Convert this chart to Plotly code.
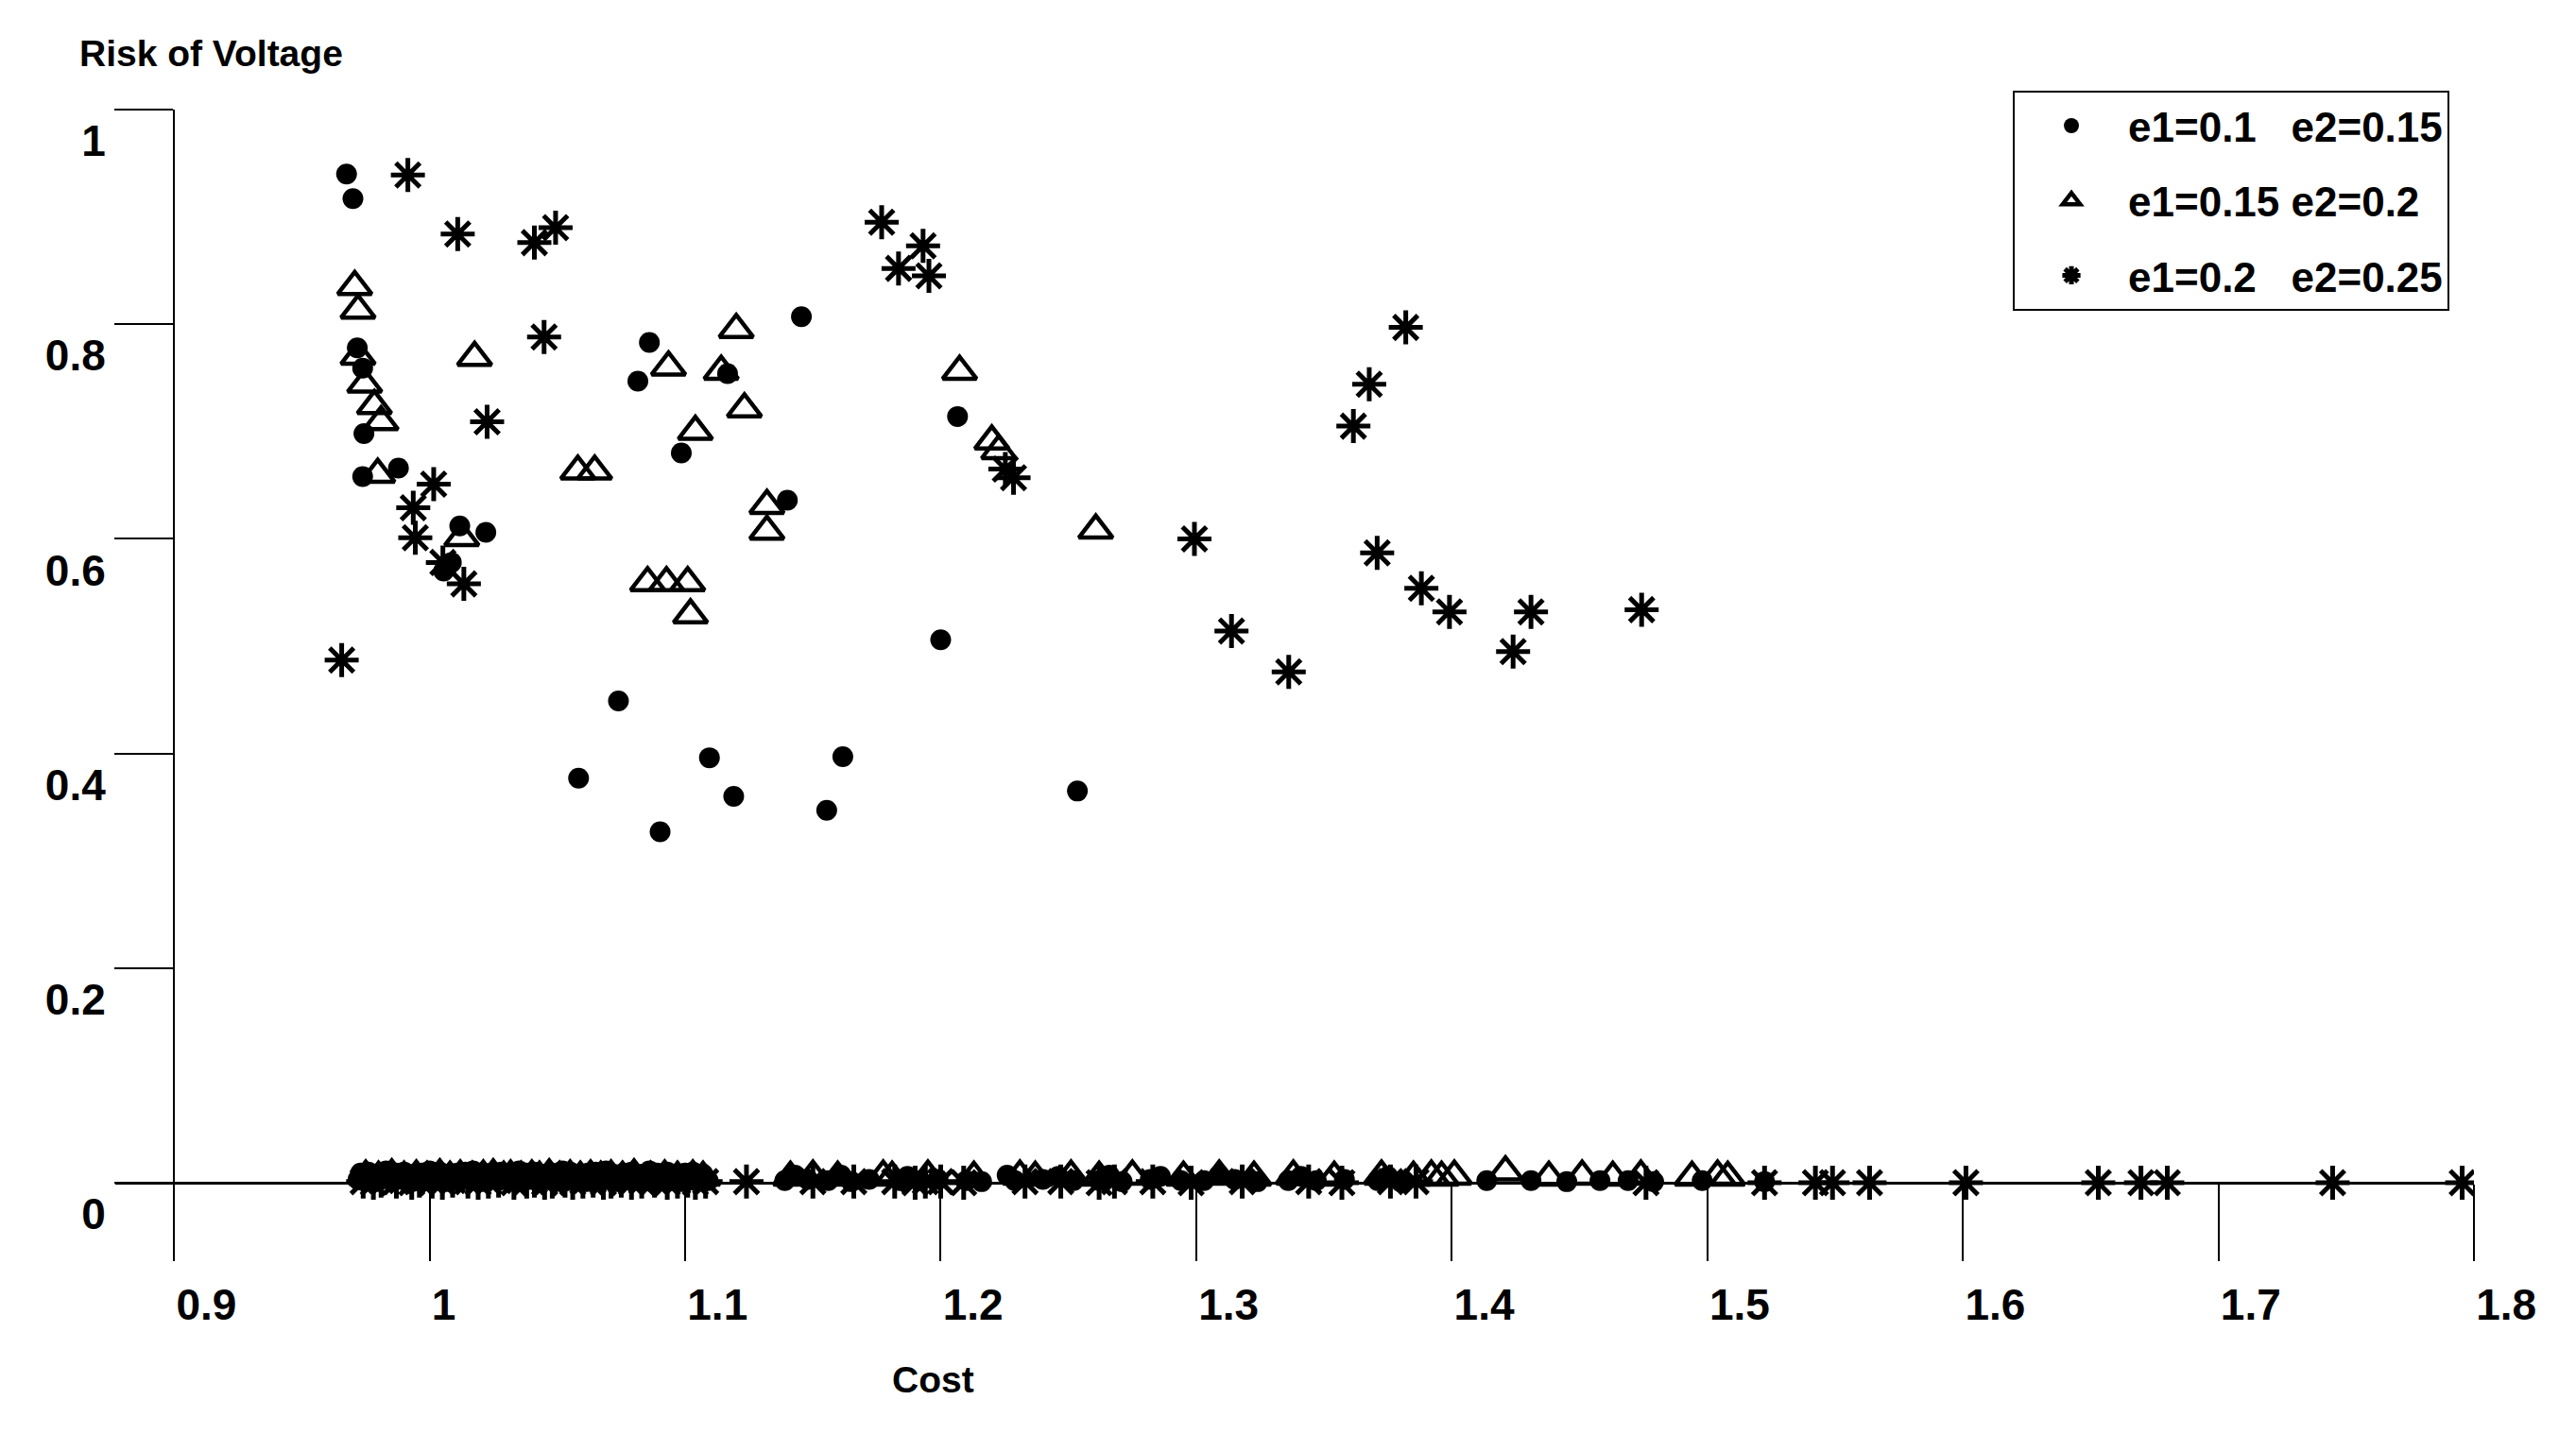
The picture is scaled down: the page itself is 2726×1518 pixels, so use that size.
import plotly.graph_objects as go

FONT = "Liberation Sans, Arial, sans-serif"

# ---------------- data ----------------
# series 1: e1=0.1 e2=0.15 (filled dots)
s1_up_x = [0.9675, 0.970, 0.9717, 0.9738, 0.9743, 0.9738, 0.9878, 1.0118, 1.022, 1.0085,
           1.0055, 1.086, 1.0815, 1.1166, 1.0985, 1.1455, 1.2066, 1.140, 1.200, 1.0739,
           1.1095, 1.0583, 1.119, 1.1617, 1.1554, 1.0902, 1.2535]
s1_up_y = [0.940, 0.917, 0.778, 0.759, 0.698, 0.658, 0.666, 0.612, 0.606, 0.578,
           0.570, 0.783, 0.747, 0.754, 0.680, 0.807, 0.714, 0.636, 0.506, 0.449,
           0.396, 0.377, 0.360, 0.397, 0.347, 0.327, 0.365]
s1_low_x = [0.972, 0.974, 0.977, 0.979, 0.981, 0.984, 0.986, 0.989, 0.991, 0.993,
            0.996, 0.998, 1.001, 1.003, 1.006, 1.008, 1.010, 1.013, 1.015, 1.018,
            1.020, 1.022, 1.025, 1.027, 1.030, 1.032, 1.034, 1.037, 1.039, 1.042,
            1.044, 1.046, 1.049, 1.051, 1.054, 1.056, 1.058, 1.061, 1.063, 1.066,
            1.068, 1.070, 1.073, 1.075, 1.078, 1.080, 1.082, 1.085, 1.087, 1.090,
            1.092, 1.094, 1.097, 1.099, 1.102, 1.104, 1.106, 1.109,
            0.973, 0.976, 0.980, 0.983, 0.987, 0.990, 0.994, 0.997, 1.000, 1.004,
            1.007, 1.011, 1.014, 1.017, 1.021, 1.024, 1.028, 1.031, 1.035, 1.038,
            1.041, 1.045, 1.048, 1.052, 1.055, 1.059, 1.062, 1.065, 1.069, 1.072,
            1.076, 1.079, 1.083, 1.086, 1.089, 1.093, 1.096, 1.100, 1.103, 1.107,
            1.139, 1.143, 1.148, 1.156, 1.161, 1.165, 1.172, 1.184, 1.187, 1.192,
            1.199, 1.210, 1.216, 1.226, 1.229, 1.240, 1.246, 1.252, 1.262, 1.266,
            1.271, 1.282, 1.286, 1.294, 1.303, 1.309, 1.315, 1.324, 1.336, 1.341,
            1.347, 1.358, 1.371, 1.375, 1.380, 1.4137, 1.431, 1.445, 1.458, 1.469,
            1.479, 1.498, 1.5224]
s1_low_y = [0.003, 0.002, 0.004, 0.001, 0.003, 0.005, 0.002, 0.003, 0.004, 0.001,
            0.003, 0.002, 0.004, 0.003, 0.001, 0.005, 0.002, 0.003, 0.004, 0.002,
            0.001, 0.003, 0.005, 0.002, 0.003, 0.004, 0.001, 0.002, 0.003, 0.005,
            0.002, 0.003, 0.001, 0.004, 0.002, 0.003, 0.005, 0.001, 0.003, 0.002,
            0.004, 0.003, 0.001, 0.002, 0.004, 0.003, 0.005, 0.002, 0.001, 0.003,
            0.004, 0.002, 0.003, 0.001, 0.004, 0.002, 0.003, 0.002,
            0.009, 0.010, 0.008, 0.011, 0.009, 0.010, 0.008, 0.009, 0.011, 0.010,
            0.008, 0.009, 0.010, 0.011, 0.008, 0.009, 0.010, 0.008, 0.011, 0.009,
            0.010, 0.008, 0.009, 0.011, 0.010, 0.008, 0.009, 0.010, 0.011, 0.008,
            0.009, 0.010, 0.008, 0.011, 0.009, 0.010, 0.008, 0.009, 0.010, 0.008,
            0.002, 0.007, 0.003, 0.002, 0.007, 0.001, 0.003, 0.002, 0.006, 0.002,
            0.003, 0.002, 0.001, 0.007, 0.002, 0.003, 0.006, 0.002, 0.002, 0.007,
            0.001, 0.003, 0.006, 0.002, 0.002, 0.007, 0.003, 0.001, 0.002, 0.006,
            0.002, 0.003, 0.002, 0.006, 0.001, 0.002, 0.002, 0.001, 0.002, 0.002,
            0.001, 0.002, 0.001]

# series 2: e1=0.15 e2=0.2 (open triangles)
s2_up_x = [0.9707, 0.972, 0.972, 0.9746, 0.9784, 0.981, 0.9797, 1.0176, 1.0126, 1.058,
           1.0646, 1.0935, 1.120, 1.1141, 1.1232, 1.104, 1.132, 1.132, 1.0853, 1.0927,
           1.101, 1.1021, 1.2074, 1.220, 1.2227, 1.2607]
s2_up_y = [0.835, 0.813, 0.770, 0.744, 0.724, 0.709, 0.660, 0.769, 0.601, 0.663,
           0.663, 0.760, 0.795, 0.756, 0.721, 0.700, 0.631, 0.607, 0.559, 0.559,
           0.559, 0.529, 0.756, 0.691, 0.682, 0.608]
s2_low_x = [0.975, 0.980, 0.9852, 0.990, 0.9948, 0.999, 1.004, 1.008, 1.012, 1.0167,
            1.021, 1.0249, 1.029, 1.0317, 1.0358, 1.040, 1.043, 1.0468, 1.0509, 1.055,
            1.059, 1.063, 1.067, 1.071, 1.0755, 1.080, 1.0865, 1.092, 1.097, 1.103,
            1.107,
            1.1412, 1.150, 1.1597, 1.1775, 1.181, 1.195, 1.213, 1.231, 1.237, 1.251,
            1.262, 1.275, 1.295, 1.309, 1.3226, 1.338, 1.354, 1.3725, 1.385, 1.392,
            1.396, 1.401, 1.421, 1.438, 1.451, 1.463, 1.474, 1.494, 1.504, 1.508]
s2_low_y = [0.006, 0.005, 0.007, 0.005, 0.006, 0.005, 0.007, 0.005, 0.006, 0.005,
            0.006, 0.007, 0.005, 0.006, 0.005, 0.006, 0.005, 0.007, 0.005, 0.006,
            0.005, 0.006, 0.005, 0.006, 0.005, 0.007, 0.005, 0.006, 0.005, 0.006,
            0.005,
            0.005, 0.006, 0.005, 0.006, 0.005, 0.006, 0.005, 0.006, 0.005, 0.006,
            0.005, 0.006, 0.005, 0.006, 0.005, 0.006, 0.005, 0.006, 0.005, 0.006,
            0.005, 0.006, 0.010, 0.005, 0.006, 0.005, 0.006, 0.005, 0.006, 0.005]

# series 3: e1=0.2 e2=0.25 (asterisks)
s3_up_x = [0.9915, 1.011, 1.041, 1.0493, 1.0448, 1.0225, 1.0016, 0.9936, 0.9944, 1.0052,
           1.0134, 0.9656, 1.1769, 1.1931, 1.1835, 1.1954, 1.2253, 1.2285, 1.382, 1.3677,
           1.3615, 1.2993, 1.3708, 1.3881, 1.3991, 1.431, 1.424, 1.4743, 1.3138, 1.3362]
s3_up_y = [0.939, 0.884, 0.876, 0.890, 0.788, 0.709, 0.651, 0.629, 0.601, 0.578,
           0.558, 0.487, 0.895, 0.873, 0.852, 0.845, 0.665, 0.657, 0.797, 0.744,
           0.705, 0.600, 0.587, 0.554, 0.532, 0.532, 0.495, 0.534, 0.514, 0.476]
s3_low_x = [0.974, 0.978, 0.981, 0.987, 0.993, 0.996, 1.001, 1.005, 1.009, 1.015,
            1.019, 1.023, 1.027, 1.033, 1.038, 1.041, 1.045, 1.048, 1.053, 1.056,
            1.060, 1.064, 1.068, 1.071, 1.075, 1.079, 1.083, 1.088, 1.093, 1.097,
            1.101, 1.104, 1.108,
            1.124, 1.150, 1.166, 1.182, 1.190, 1.194, 1.200, 1.209, 1.233, 1.247,
            1.262, 1.268, 1.283, 1.298, 1.318, 1.344, 1.357, 1.376, 1.386, 1.476,
            1.5224, 1.5423, 1.549, 1.5635, 1.6012, 1.653, 1.6697, 1.680, 1.7447, 1.7954]
s3_low_y = [0.001, 0.000, 0.002, 0.001, 0.000, 0.002, 0.001, 0.000, 0.002, 0.001,
            0.000, 0.001, 0.002, 0.000, 0.001, 0.002, 0.000, 0.001, 0.002, 0.000,
            0.001, 0.002, 0.000, 0.001, 0.002, 0.000, 0.001, 0.002, 0.000, 0.001,
            0.002, 0.000, 0.001,
            0.001, 0.001, 0.001, 0.001, 0.000, 0.001, 0.001, 0.000, 0.001, 0.001,
            0.000, 0.001, 0.001, 0.000, 0.001, 0.001, 0.000, 0.001, 0.001, 0.000,
            0.000, 0.000, 0.000, 0.000, 0.000, 0.000, 0.000, 0.000, 0.000, 0.000]

series_names = ["e1=0.1\u00a0\u00a0\u00a0e2=0.15",
                "e1=0.15\u00a0e2=0.2",
                "e1=0.2\u00a0\u00a0\u00a0e2=0.25"]

x_tickvals = [0.9, 1.0, 1.1, 1.2, 1.3, 1.4, 1.5, 1.6, 1.7, 1.8]
x_ticktext = ["0.9", "1", "1.1", "1.2", "1.3", "1.4", "1.5", "1.6", "1.7", "1.8"]
y_tickvals = [0, 0.2, 0.4, 0.6, 0.8, 1.0]
y_ticktext = ["0", "0.2", "0.4", "0.6", "0.8", "1"]

x_title = "Cost"
y_title = "Risk of Voltage"

# ---------------- figure ----------------
fig = go.Figure()

fig.add_trace(go.Scatter(
    x=s1_up_x + s1_low_x, y=s1_up_y + s1_low_y, mode="markers",
    name=series_names[0], legendgroup="g1",
    marker=dict(symbol="circle", size=22, color="black", line=dict(width=0)),
))
fig.add_trace(go.Scatter(
    x=s2_up_x + s2_low_x, y=s2_up_y + s2_low_y, mode="markers",
    name=series_names[1], legendgroup="g2",
    marker=dict(symbol="triangle-up-open", size=31, color="black",
                line=dict(width=4.5, color="black")),
))
fig.add_trace(go.Scatter(
    x=s3_up_x + s3_low_x, y=s3_up_y + s3_low_y, mode="markers",
    name=series_names[2], legendgroup="g3",
    marker=dict(symbol="asterisk-open", size=30, color="black",
                line=dict(width=5, color="black")),
))

tickfont = dict(family=FONT, size=46, color="black", weight="bold")

# page body has an 8px margin: figure is 2710x1502 so plot area sits at 122..2618 / 116..1333
fig.update_layout(
    width=2710, height=1502,
    margin=dict(l=114, r=100, t=108, b=177, autoexpand=False),
    plot_bgcolor="white", paper_bgcolor="white",
    showlegend=True,
    legend=dict(
        x=0.8045, y=1.0165, xanchor="left", yanchor="top",
        bgcolor="white", bordercolor="black", borderwidth=2,
        font=dict(family=FONT, size=44, color="black", weight="bold"),
        itemwidth=110, traceorder="grouped", tracegroupgap=19,
    ),
    xaxis=dict(
        range=[0.877, 1.8], showgrid=False, zeroline=False,
        showline=True, linecolor="black", linewidth=2.5,
        anchor="free", position=0.06655,
        ticks="outside", ticklen=81, tickwidth=2, tickcolor="black",
        tickvals=x_tickvals, ticktext=x_ticktext,
        ticklabelposition="outside right", ticklabelstandoff=88,
        tickfont=tickfont, automargin=False,
    ),
    yaxis=dict(
        range=[-0.0713, 1.0], showgrid=False, zeroline=False,
        showline=True, linecolor="black", linewidth=2,
        anchor="free", position=0.02484,
        ticks="outside", ticklen=62, tickwidth=2, tickcolor="black",
        tickvals=y_tickvals, ticktext=y_ticktext,
        ticklabelshift=33, ticklabelstandoff=0,
        tickfont=tickfont, automargin=False,
    ),
    annotations=[
        dict(text=y_title, xref="paper", yref="paper", x=-0.0160, y=1.0485,
             xanchor="left", yanchor="middle", showarrow=False,
             font=dict(family=FONT, size=39, color="black", weight="bold")),
        dict(text=x_title, xref="paper", yref="paper", x=0.3466, y=-0.1044,
             xanchor="center", yanchor="middle", showarrow=False,
             font=dict(family=FONT, size=39, color="black", weight="bold")),
    ],
)

fig.write_html("out.html")
